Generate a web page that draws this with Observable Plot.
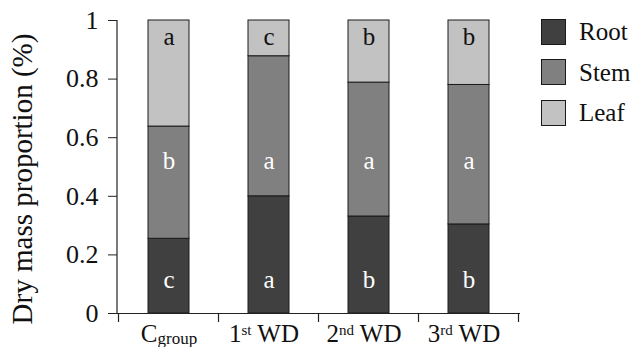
<!DOCTYPE html>
<html>
<head>
<meta charset="utf-8">
<script src="https://cdn.jsdelivr.net/npm/d3@7"></script>
<script src="https://cdn.jsdelivr.net/npm/@observablehq/plot@0.6"></script>
<style>
  html, body { margin: 0; padding: 0; background: white; }
  #wrap { position: relative; width: 633px; height: 347px; font-family: "Liberation Serif", "Times New Roman", serif; }
  #legend { position: absolute; left: 541px; top: 18px; }
  .item { display: flex; align-items: center; height: 27px; margin-bottom: 13.5px; }
  .sw { width: 23px; height: 24px; border: 1.5px solid #1a1a1a; box-sizing: content-box; }
  .lab { margin-left: 13px; font-size: 25px; line-height: 25px; color: #111; font-family: "Liberation Serif", serif; }
</style>
</head>
<body>
<div id="wrap"></div>
<script>
// ---- data ----
const groups = ["Cgroup", "1st WD", "2nd WD", "3rd WD"];
const parts = ["Root", "Stem", "Leaf"];
const rootValues = [0.255, 0.400, 0.331, 0.304];
const stemValues = [0.383, 0.478, 0.457, 0.476];
const leafValues = [0.362, 0.122, 0.212, 0.220];
const rootLetters = ["c", "a", "b", "b"];
const stemLetters = ["b", "a", "a", "a"];
const leafLetters = ["a", "c", "b", "b"];
const letterLevels = [0.113, 0.522, 0.945]; // data-unit height of the letters for Root, Stem, Leaf
const yTicks = [0, 0.2, 0.4, 0.6, 0.8, 1];
const yTickLabels = ["0", "0.2", "0.4", "0.6", "0.8", "1"];
const xLabelBase = ["C", "1", "2", "3"];
const xLabelScript = ["group", "st", "nd", "rd"];
const xLabelKind = ["sub", "sup", "sup", "sup"];
const xLabelRest = ["", " WD", " WD", " WD"];
const yTitle = "Dry mass proportion (%)";
const partColors = ["#404040", "#808080", "#c2c2c2"];

// ---- tables built from arrays ----
const valueSets = [rootValues, stemValues, leafValues];
const letterSets = [rootLetters, stemLetters, leafLetters];
const rows = [];
const letters = [];
parts.forEach((p, j) => {
  groups.forEach((g, i) => {
    rows.push({group: g, part: p, value: valueSets[j][i]});
    letters.push({group: g, part: p, letter: letterSets[j][i], y: letterLevels[j]});
  });
});

const font = "Liberation Serif";
const chart = Plot.plot({
  width: 633,
  height: 347,
  marginLeft: 117,
  marginRight: 113,
  marginTop: 20,
  marginBottom: 34,
  style: {fontFamily: font, background: "white", color: "#111"},
  x: {domain: groups, paddingInner: 0.593, paddingOuter: 0.2965, align: 0.5},
  y: {domain: [0, 1]},
  color: {domain: parts, range: partColors},
  marks: [
    Plot.barY(rows, {x: "group", y: "value", fill: "part", stroke: "#1a1a1a", strokeWidth: 1}),
    Plot.text(letters.filter(d => d.part !== "Leaf"), {x: "group", y: "y", text: "letter", fill: "white", fontSize: 25, fontFamily: font}),
    Plot.text(letters.filter(d => d.part === "Leaf"), {x: "group", y: "y", text: "letter", fill: "#111", fontSize: 25, fontFamily: font}),
    Plot.ruleY([0], {stroke: "#222", strokeWidth: 1.2}),
    Plot.axisY(yTicks, {tickFormat: d => yTickLabels[yTicks.indexOf(d)], tickSize: 9, tickPadding: 10, fontSize: 26, fontFamily: font, label: null, stroke: "#222"}),
    Plot.axisX({tickSize: 0, tickPadding: 11, fontSize: 25, fontFamily: font, label: null}),
    Plot.text([yTitle], {frameAnchor: "left", textAnchor: "middle", lineAnchor: "middle", rotate: -90, dx: -95, dy: 12, fontSize: 29, fontFamily: font, fill: "#111"})
  ]
});

// y spine and category boundary ticks from the plot's own scales
const xs = chart.scale("x");
const ys = chart.scale("y");
const svg = d3.select(chart);
const g = svg.append("g").attr("stroke", "#222").attr("stroke-width", 1.2);
const x0 = xs.range[0];
g.append("line").attr("x1", x0).attr("x2", x0).attr("y1", ys.apply(1)).attr("y2", ys.apply(0));
const gap = (xs.step - xs.bandwidth) / 2;
const bounds = groups.map(c => xs.apply(c) - gap);
bounds.push(xs.apply(groups[groups.length - 1]) + xs.bandwidth + gap);
bounds.forEach(b => {
  g.append("line").attr("x1", b).attr("x2", b).attr("y1", ys.apply(0)).attr("y2", ys.apply(0) + 9);
});

// x tick labels with sub/superscripts
svg.selectAll('g[aria-label="x-axis tick label"] text').each(function() {
  const t = d3.select(this);
  const i = groups.indexOf(t.text());
  if (i < 0) return;
  t.text(null);
  t.append("tspan").text(xLabelBase[i]);
  if (xLabelKind[i] === "sub") {
    t.append("tspan").attr("dy", 2).attr("font-size", 17).text(xLabelScript[i]);
  } else {
    t.attr("dx", -5);
    t.append("tspan").attr("dy", -7).attr("font-size", 15).text(xLabelScript[i]);
    t.append("tspan").attr("dy", 7).text(xLabelRest[i]);
  }
});

const wrap = document.getElementById("wrap");
wrap.appendChild(chart);

// legend
const legend = document.createElement("div");
legend.id = "legend";
parts.forEach((p, j) => {
  const item = document.createElement("div");
  item.className = "item";
  const sw = document.createElement("div");
  sw.className = "sw";
  sw.style.background = partColors[j];
  const lab = document.createElement("span");
  lab.className = "lab";
  lab.textContent = p;
  item.appendChild(sw);
  item.appendChild(lab);
  legend.appendChild(item);
});
wrap.appendChild(legend);
</script>
</body>
</html>
